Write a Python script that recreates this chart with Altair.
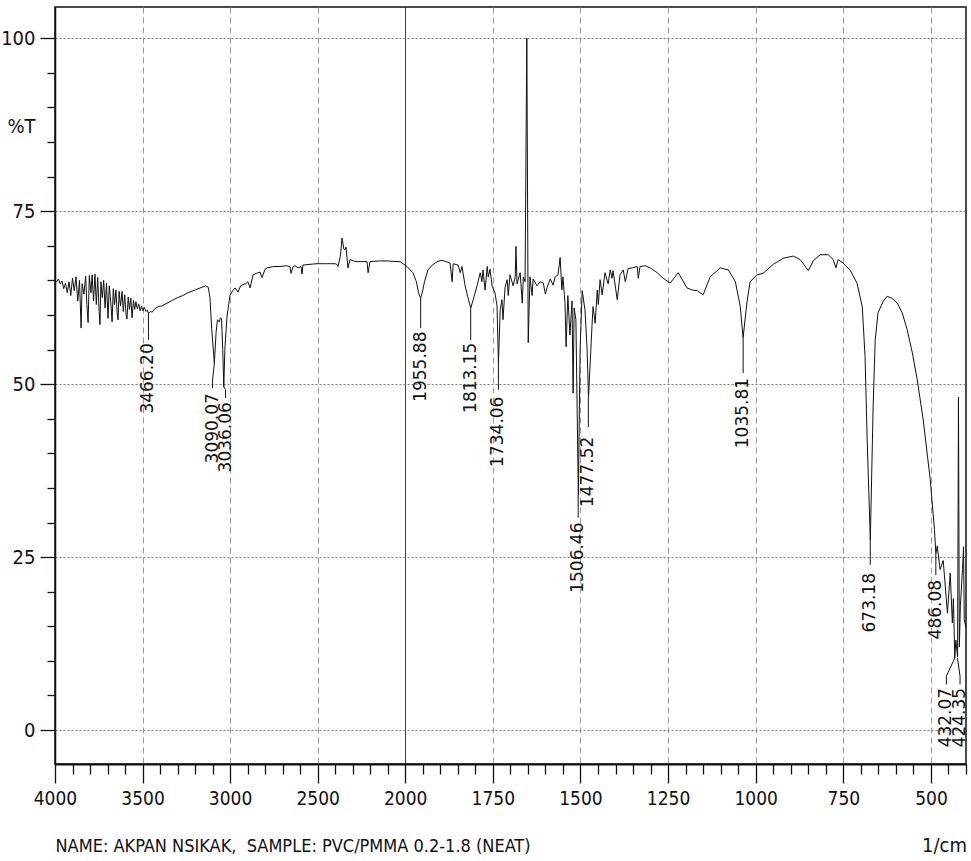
import altair as alt
import pandas as pd

# ---------------- data ----------------
WAVENUMBER = [
    4000, 3990, 3980, 3970, 3960, 3950, 3940, 3930, 3920, 3910, 3900, 3890, 3880, 3870, 3860,
    3851, 3845, 3835, 3825, 3818, 3811, 3804, 3795, 3788, 3780, 3772, 3764, 3756, 3748, 3743,
    3738, 3730, 3722, 3714, 3706, 3697, 3690, 3682, 3674, 3667, 3660, 3652, 3645, 3640, 3634,
    3626, 3617, 3610, 3602, 3594, 3589, 3582, 3575, 3567, 3560, 3552, 3545, 3538, 3530, 3522,
    3514, 3506, 3498, 3490, 3480, 3472, 3466, 3455, 3445, 3430, 3410, 3390, 3360, 3330, 3300,
    3270, 3240, 3200, 3160, 3140, 3125, 3115, 3105, 3090, 3080, 3072, 3062, 3055, 3049, 3042,
    3036, 3030, 3018, 3001, 2985, 2972, 2955, 2940, 2926, 2910, 2898, 2886, 2869, 2850, 2829,
    2818, 2800, 2789, 2750, 2715, 2680, 2658, 2652, 2640, 2629, 2612, 2595, 2589, 2584, 2550,
    2504, 2450, 2400, 2390, 2384, 2370, 2361, 2350, 2344, 2338, 2327, 2315, 2295, 2275, 2240,
    2218, 2212, 2201, 2150, 2100, 2047, 2030, 2012, 1995, 1978, 1968, 1962, 1956, 1950, 1945,
    1935, 1923, 1909, 1895, 1872, 1866, 1863, 1849, 1843, 1838, 1829, 1821, 1813, 1806, 1795,
    1786, 1781, 1778, 1772, 1766, 1763, 1758, 1752, 1744, 1738, 1734, 1729, 1724, 1721, 1715,
    1709, 1706, 1701, 1692, 1686, 1684, 1681, 1672, 1666, 1663, 1658, 1653, 1649, 1644, 1638,
    1635, 1624, 1615, 1606, 1600, 1595, 1586, 1578, 1572, 1564, 1558, 1553, 1550, 1544, 1541,
    1536, 1530, 1524, 1521, 1518, 1513, 1506, 1501, 1495, 1487, 1481, 1477, 1467, 1464, 1458,
    1452, 1449, 1444, 1438, 1430, 1421, 1415, 1410, 1407, 1395, 1387, 1378, 1372, 1364, 1352,
    1338, 1335, 1330, 1315, 1301, 1281, 1264, 1244, 1221, 1196, 1181, 1167, 1150, 1130, 1101,
    1078, 1058, 1044, 1036, 1025, 1016, 996, 979, 950, 921, 893, 873, 850, 836, 816,
    793, 779, 771, 765, 751, 731, 711, 696, 688, 682, 673, 665, 659, 651, 636,
    625, 611, 596, 582, 568, 553, 539, 522, 502, 490, 486, 482, 474, 465, 453,
    445, 439, 436, 432, 429, 424, 421.5, 419, 416, 410, 407, 405, 400,
]
TRANSMITTANCE = [
    65.0, 64.8, 65.2, 64.5, 64.9, 63.8, 64.6, 63.2, 64.8, 62.8, 65.3, 63.5, 65.5, 62.0, 65.0,
    58.1, 64.5, 63.0, 65.6, 61.5, 58.9, 65.7, 63.2, 65.8, 62.0, 65.9, 61.5, 65.4, 60.5, 58.6,
    64.8, 62.5, 65.0, 61.0, 64.6, 59.5, 64.2, 62.0, 59.0, 63.8, 61.5, 63.6, 60.3, 59.3, 63.4,
    61.3, 63.4, 60.5, 62.9, 60.0, 59.4, 62.6, 60.8, 62.4, 59.6, 62.1, 60.8, 61.9, 60.9, 61.6,
    60.6, 61.3, 60.6, 61.1, 60.5, 60.7, 60.2, 60.5, 60.4, 60.9, 61.2, 61.3, 61.7, 62.1, 62.5,
    62.8, 63.2, 63.6, 64.0, 64.2, 64.0, 62.5, 58.0, 53.0, 57.5, 59.3, 59.0, 59.6, 59.5, 55.0,
    49.6, 55.0, 59.7, 62.8, 63.5, 63.9, 63.3, 64.2, 64.4, 64.5, 64.8, 63.9, 65.8, 66.0, 66.2,
    65.4, 66.6, 66.8, 67.0, 67.0, 67.1, 67.0, 66.0, 67.0, 67.1, 66.8, 67.0, 65.9, 67.2, 67.3,
    67.4, 67.4, 67.4, 67.3, 67.0, 68.5, 71.1, 69.5, 69.4, 69.8, 66.8, 68.0, 67.8, 67.7, 67.7,
    67.7, 66.1, 67.7, 67.8, 67.8, 67.7, 67.7, 67.4, 67.0, 66.1, 64.8, 63.2, 62.4, 63.5, 64.8,
    66.5, 67.2, 67.7, 67.9, 67.5, 64.8, 67.4, 67.2, 66.1, 67.0, 64.2, 62.5, 61.0, 62.2, 64.2,
    66.1, 64.8, 66.5, 63.6, 67.0, 65.5, 66.6, 64.2, 63.2, 61.3, 53.1, 60.7, 62.2, 59.3, 64.0,
    65.1, 62.8, 65.8, 64.2, 65.5, 69.9, 64.5, 66.1, 61.7, 65.5, 64.8, 100.0, 56.0, 65.5, 62.8,
    65.2, 64.2, 64.8, 64.6, 63.0, 64.0, 65.2, 64.3, 65.5, 65.8, 68.3, 63.6, 65.5, 61.7, 55.4,
    62.8, 57.1, 62.0, 48.7, 61.0, 59.3, 34.0, 55.0, 63.5, 60.7, 55.0, 48.1, 58.5, 61.2, 58.8,
    63.6, 61.5, 65.1, 62.9, 66.1, 64.5, 66.5, 65.3, 66.4, 62.2, 65.8, 66.5, 64.8, 66.7, 66.8,
    67.0, 65.3, 67.0, 67.1, 66.8, 66.1, 65.3, 64.6, 66.1, 63.9, 63.6, 63.5, 62.9, 65.5, 66.8,
    66.5, 64.8, 61.2, 56.7, 61.8, 64.8, 65.8, 66.0, 67.3, 68.2, 68.5, 68.0, 66.4, 67.8, 68.7,
    68.7, 68.0, 66.8, 68.0, 67.5, 66.5, 64.6, 61.2, 54.0, 42.0, 27.5, 46.7, 56.4, 60.3, 62.0,
    62.7, 62.4, 61.7, 60.3, 57.9, 54.5, 50.6, 44.8, 36.2, 29.0, 25.5, 26.6, 23.2, 24.5, 16.9,
    22.7, 15.5, 19.0, 10.4, 13.0, 10.6, 48.1, 12.0, 18.0, 23.2, 26.5, 16.0, 14.8,
]

PEAK_TEXT = ["3466.20", "3090.07", "3036.06", "1955.88", "1813.15", "1734.06", "1506.46",
             "1477.52", "1035.81", "673.18", "486.08", "432.07", "424.35"]
PEAK_WN = [3466.20, 3090.07, 3036.06, 1955.88, 1813.15, 1734.06, 1506.46,
           1477.52, 1035.81, 673.18, 486.08, 432.07, 424.35]
PEAK_T = [60.2, 53.0, 49.6, 62.4, 61.0, 53.1, 34.0, 48.1, 56.7, 27.5, 25.5, 10.4, 10.4]
LABEL_WN = [3466.20, 3100.0, 3026.0, 1955.88, 1813.15, 1734.06, 1506.46,
            1477.52, 1035.81, 673.18, 486.08, 456.0, 417.0]
LEADER_END_T = [56.4, 49.4, 48.0, 58.1, 56.4, 49.2, 30.7, 43.8, 51.6, 23.9, 22.4, 6.6, 6.6]
LABEL_TOP_T = [55.9, 48.7, 47.4, 57.6, 56.0, 48.2, 30.0, 42.4, 50.9, 22.7, 21.7, 6.1, 6.1]

X_MAJOR = [4000, 3500, 3000, 2500, 2000, 1750, 1500, 1250, 1000, 750, 500]
X_TICKS = list(range(4000, 2000, -100)) + list(range(2000, 399, -50))
Y_TICKS = list(range(0, 101, 5))

TITLE = "NAME: AKPAN NSIKAK,\u00a0 SAMPLE: PVC/PMMA 0.2-1.8 (NEAT)"
UNIT = "1/cm"
Y_TITLE = "%T"

# ---------------- tables ----------------
spec = pd.DataFrame({"wn": WAVENUMBER, "T": TRANSMITTANCE})

rows = []
for i, (pw, pt, lw, le) in enumerate(zip(PEAK_WN, PEAK_T, LABEL_WN, LEADER_END_T)):
    rows.append({"id": i, "o": 0, "wn": pw, "T": pt})
    rows.append({"id": i, "o": 1, "wn": lw, "T": le + 1.2})
    rows.append({"id": i, "o": 2, "wn": lw, "T": le})
leaders = pd.DataFrame(rows)

labels = pd.DataFrame({"wn": LABEL_WN, "T": LABEL_TOP_T, "txt": PEAK_TEXT})

# ---------------- layout ----------------
W, H = 911, 757
NARROW = "Liberation Sans Narrow, Arial Narrow, DejaVu Sans Condensed, sans-serif"

xscale = alt.Scale(domain=[4000, 2000, 400], range=[0, 350.2, W], nice=False, zero=False)
yscale = alt.Scale(domain=[-4.9, 104.5], nice=False, zero=False)

major_test = "indexof([" + ",".join(str(v) for v in X_MAJOR) + "], datum.value) >= 0"

x_axis = alt.Axis(
    values=X_TICKS,
    tickCount=1000,
    labelExpr=f"({major_test}) ? datum.label : ''",
    format="d",
    labelFont=NARROW, labelFontSize=19, labelColor="#111",
    labelPadding=6, labelFlush=False, labelOverlap=False,
    tickColor="#111", tickWidth=1.3,
    tickSize={"condition": {"test": major_test, "value": 19}, "value": 10},
    domainColor="#111", domainWidth=2,
    grid=True,
    gridOpacity={"condition": {"test": f"({major_test}) && datum.value != 4000", "value": 1}, "value": 0},
    gridColor={"condition": {"test": "datum.value == 2000", "value": "#000000"}, "value": "#9a9a9a"},
    gridDash={"condition": {"test": "datum.value == 2000", "value": [1, 0]}, "value": [6, 4]},
    gridWidth=1,
    title=TITLE, titleFont=NARROW, titleFontSize=18, titleFontWeight="normal", titleColor="#111",
    titleAnchor="start", titleAlign="left", titleBaseline="alphabetic", titleX=0, titleY=87,
)

y_axis = alt.Axis(
    values=Y_TICKS,
    tickCount=1000,
    format="d",
    labelExpr="datum.value % 25 == 0 ? datum.label : ''",
    labelFont=NARROW, labelFontSize=20, labelColor="#111",
    labelPadding=5, labelFlush=False, labelOverlap=False,
    tickColor="#111", tickWidth=1.3,
    tickSize={"condition": {"test": "datum.value % 25 == 0", "value": 15}, "value": 8},
    domainColor="#111", domainWidth=1.5,
    grid=True,
    gridOpacity={"condition": {"test": "datum.value % 25 == 0", "value": 1}, "value": 0},
    gridColor="#7a7a7a", gridDash=[2, 2], gridWidth=1,
    title=Y_TITLE, titleFont=NARROW, titleFontSize=20, titleFontWeight="normal", titleColor="#111",
    titleAngle=0, titleAlign="right", titleBaseline="middle", titleX=-20, titleY=119,
)

line = alt.Chart(spec).mark_line(color="#111", strokeWidth=1, interpolate="linear").encode(
    x=alt.X("wn:Q", scale=xscale, axis=x_axis),
    y=alt.Y("T:Q", scale=yscale, axis=y_axis),
    order=alt.Order("wn:Q", sort="descending"),
)

lead = alt.Chart(leaders).mark_line(color="#111", strokeWidth=1).encode(
    x=alt.X("wn:Q", scale=xscale),
    y=alt.Y("T:Q", scale=yscale),
    detail="id:N",
    order="o:Q",
)

text = alt.Chart(labels).mark_text(
    angle=270, align="right", baseline="middle", font="DejaVu Sans", fontSize=17, color="#111"
).encode(
    x=alt.X("wn:Q", scale=xscale),
    y=alt.Y("T:Q", scale=yscale),
    text="txt:N",
)

unit = alt.Chart(pd.DataFrame({"u": [UNIT]})).mark_text(
    align="right", baseline="alphabetic", font=NARROW, fontSize=20, color="#111"
).encode(
    x=alt.value(W + 1),
    y=alt.value(H + 88),
    text="u:N",
)

chart = alt.layer(line, lead, text, unit).properties(
    width=W, height=H,
    autosize=alt.AutoSizeParams(type="none"),
    padding={"left": 55, "top": 7, "right": 5, "bottom": 97},
    background="white",
).configure_view(stroke="#111", strokeWidth=1.5)

chart.save("out.html", embed_options={"renderer": "svg", "actions": False})
